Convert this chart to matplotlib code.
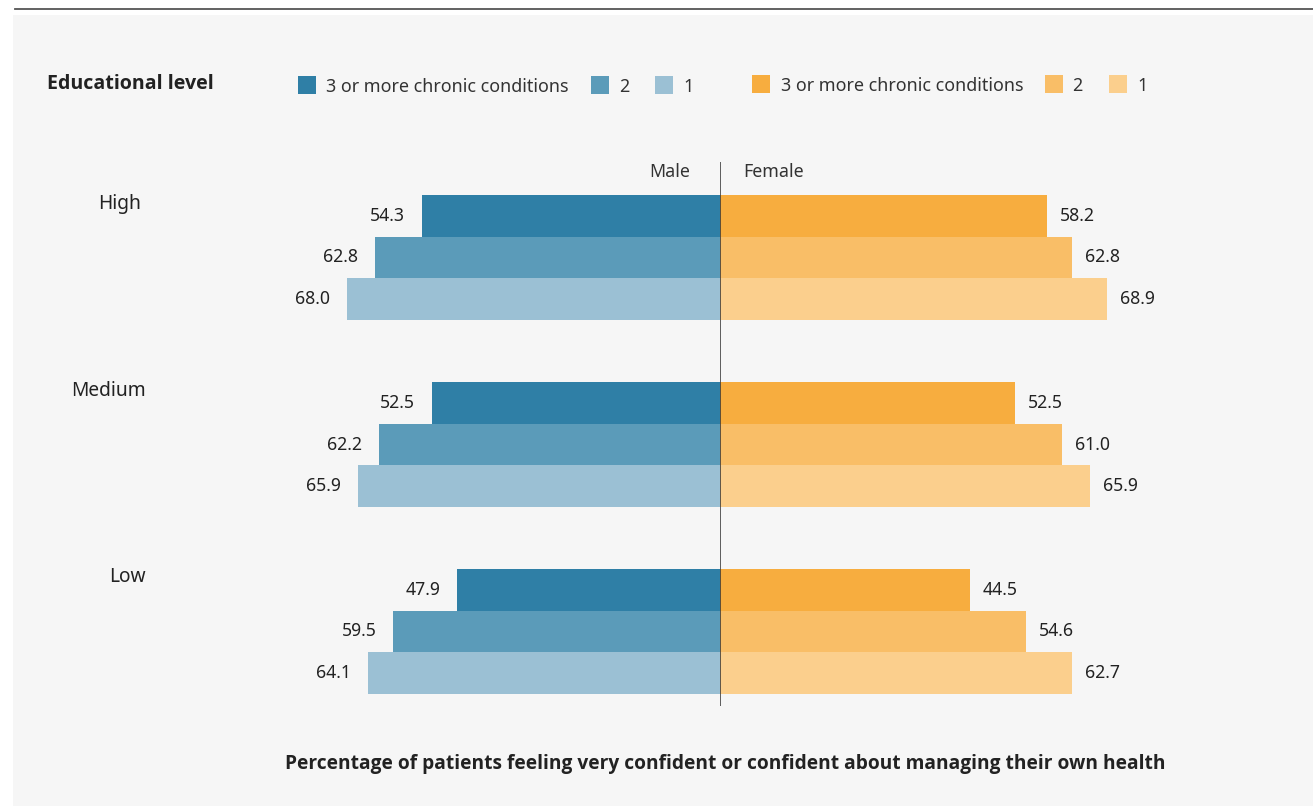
import matplotlib
matplotlib.use("Agg")
import matplotlib.pyplot as plt
from matplotlib.patches import Rectangle
import numpy as np

plt.rcParams['font.family'] = ['Noto Sans', 'DejaVu Sans']
BOLD_FAMILY = ['Open Sans', 'DejaVu Sans']

levels = ["High", "Medium", "Low"]
conditions = ["3 or more chronic conditions", "2", "1"]
male = {"3 or more chronic conditions": [54.3, 52.5, 47.9],
        "2": [62.8, 62.2, 59.5],
        "1": [68.0, 65.9, 64.1]}
female = {"3 or more chronic conditions": [58.2, 52.5, 44.5],
          "2": [62.8, 61.0, 54.6],
          "1": [68.9, 65.9, 62.7]}
male_colors = ["#2f7fa6", "#5b9bb9", "#9bc0d4"]
female_colors = ["#f7ad3f", "#f9be67", "#fbcf8d"]

W, H = 1313, 806
fig = plt.figure(figsize=(W / 100, H / 100), dpi=100, facecolor="white")

def fx(px):
    return px / W

def fy(py):
    return 1 - py / H

# panel background
fig.patches.append(Rectangle((fx(13), 0), 1 - fx(13), fy(15), transform=fig.transFigure,
                             facecolor="#f6f6f6", edgecolor="none", zorder=-10))
# top rule
fig.add_artist(plt.Line2D([fx(15), 1], [fy(9), fy(9)], transform=fig.transFigure,
                          color="#555555", lw=1.3))

ax_top, ax_bot = 162, 706
ylo = -(257.5 - ax_top) / 187
yhi = 2 + (ax_bot - 631.5) / 187
bh = 41.7 / 187

left_px, right_px, c_px = 300, 1140, 720
axL = fig.add_axes([fx(left_px), fy(ax_bot), fx(c_px - left_px), (ax_bot - ax_top) / H])
axR = fig.add_axes([fx(c_px), fy(ax_bot), fx(right_px - c_px), (ax_bot - ax_top) / H])
axL.set_xlim(-(c_px - left_px) / 5.49, 0)
axR.set_xlim(0, (right_px - c_px) / 5.61)
for ax in (axL, axR):
    ax.set_ylim(yhi, ylo)
    ax.axis("off")
    ax.patch.set_alpha(0)

px2pt = 72 / 100
g = np.arange(len(levels))
for i, cond in enumerate(conditions):
    y = g + (i - 1) * bh
    axL.barh(y, [-v for v in male[cond]], height=bh, color=male_colors[i], edgecolor="none")
    axR.barh(y, female[cond], height=bh, color=female_colors[i], edgecolor="none")
    for yy, v in zip(y, male[cond]):
        axL.annotate(f"{v:.1f}", (-v, yy), xytext=(-17 * px2pt, 0), textcoords="offset points",
                     ha="right", va="center", fontsize=12.7, color="#222222")
    for yy, v in zip(y, female[cond]):
        axR.annotate(f"{v:.1f}", (v, yy), xytext=(13 * px2pt, 0), textcoords="offset points",
                     ha="left", va="center", fontsize=12.7, color="#222222")

axR.axvline(0, color="#333333", lw=1.1, zorder=5)

fig.text(fx(690), fy(172), "Male", ha="right", va="center", fontsize=12.8, color="#333333")
fig.text(fx(743), fy(172), "Female", ha="left", va="center", fontsize=12.8, color="#333333")

for lvl, (px, py) in zip(levels, [(120, 204.5), (108, 391.5), (127, 577.5)]):
    fig.text(fx(px), fy(py), lvl, ha="center", va="center", fontsize=13.8, color="#222222")

fig.text(fx(47), fy(84), "Educational level", ha="left", va="center", fontsize=14.1,
         fontweight="bold", family=BOLD_FAMILY, color="#222222")

# legend
leg_items = [(298, 326, male_colors[0], conditions[0]), (591, 619, male_colors[1], "2"),
             (655, 683, male_colors[2], "1"),
             (752, 781, female_colors[0], conditions[0]), (1045, 1072, female_colors[1], "2"),
             (1109, 1137, female_colors[2], "1")]
for sx, tx, col, lab in leg_items:
    sy = 85 if sx < 700 else 84
    fig.patches.append(Rectangle((fx(sx), fy(sy + 9)), fx(18), 18 / H, transform=fig.transFigure,
                                 facecolor=col, edgecolor="none"))
    fig.text(fx(tx), fy(sy + 2), lab, ha="left", va="center", fontsize=12.9, color="#333333")

fig.text(fx(725), fy(764), "Percentage of patients feeling very confident or confident about managing their own health",
         ha="center", va="center", fontsize=13.8, fontweight="bold", family=BOLD_FAMILY,
         color="#222222")

fig.savefig("out.png", dpi=100, facecolor="white")
